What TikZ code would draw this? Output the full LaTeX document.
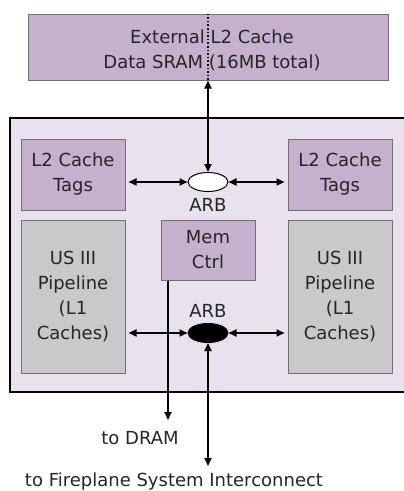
\documentclass[tikz,border=0pt]{standalone}
\usepackage{fontspec}
\setmainfont{DejaVu Sans}
\usetikzlibrary{arrows.meta,shapes.geometric}
\definecolor{purp}{HTML}{C5B1CD}
\definecolor{chipbg}{HTML}{E9E1EE}
\definecolor{greyb}{HTML}{C8C9CB}
\definecolor{edgec}{HTML}{707070}
\begin{document}
\begin{tikzpicture}[x=1pt,y=-1pt,
  txt/.style={font=\fontsize{18}{25}\selectfont, text=black!85},
  box/.style={txt, draw=edgec, line width=1pt, inner sep=0pt, align=center},
  pbox/.style={box, fill=purp},
  gbox/.style={box, fill=greyb},
  arb/.style={ellipse, draw=black, line width=1pt, minimum width=40pt, minimum height=19pt, inner sep=0pt},
  link/.style={line width=1.8pt, {Triangle[length=8pt,width=7pt]}-{Triangle[length=8pt,width=7pt]}},
  olink/.style={line width=1.8pt, -{Triangle[length=8pt,width=7pt]}}
]
\useasboundingbox (0,0) rectangle (404,491);
% chip
\fill[chipbg] (10,118) rectangle (404,392);
\draw[line width=2.5pt] (404,118) -- (10,118) -- (10,392) -- (404,392);
% external SRAM
\node[pbox, minimum width=360pt, minimum height=66pt] (sram) at (208,47) {};
\node[txt, align=center] (sramtxt) at (212,50) {External L2 Cache\\Data SRAM (16MB total)};
\draw[line width=1.6pt, dotted] (sram.north) -- (sram.south);
% tags
\node[pbox, minimum width=104pt, minimum height=71pt] (tagsL) at (73,174.5) {L2 Cache\\Tags};
\node[pbox, minimum width=104pt, minimum height=71pt] (tagsR) at (340,174.5) {L2 Cache\\Tags};
% pipelines
\node[gbox, minimum width=104pt, minimum height=153pt] (pipeL) at (73,296.5) {US III\\Pipeline\\(L1\\Caches)};
\node[gbox, minimum width=104pt, minimum height=153pt] (pipeR) at (340,296.5) {US III\\Pipeline\\(L1\\Caches)};
% mem ctrl
\node[pbox, minimum width=94pt, minimum height=60pt] (mem) at (208,250) {Mem\\Ctrl};
% arbiters
\node[arb, fill=white] (arb1) at (208,182) {};
\node[txt] (arb1l) at (208,205) {ARB};
\node[arb, fill=black] (arb2) at (208,333) {};
\node[txt] (arb2l) at (208,311) {ARB};
% connectors
\draw[link] (sram.south) -- (arb1.north);
\draw[link, shorten <=3pt] (tagsL.east |- arb1.west) -- (arb1.west);
\draw[link, shorten <=3pt] (tagsR.west |- arb1.east) -- (arb1.east);
\draw[link, shorten <=3pt] (pipeL.east |- arb2.west) -- (arb2.west);
\draw[link, shorten <=3pt] (pipeR.west |- arb2.east) -- (arb2.east);
\coordinate (dram) at (168,420);
\draw[olink] (mem.south -| dram) -- (dram);
\node[txt] (dramlbl) at (140,438) {to DRAM};
\coordinate (fire) at (208,466);
\draw[link] (arb2.south) -- (fire);
\node[txt] (firelbl) at (174,482) {to Fireplane System Interconnect};
\end{tikzpicture}
\end{document}
